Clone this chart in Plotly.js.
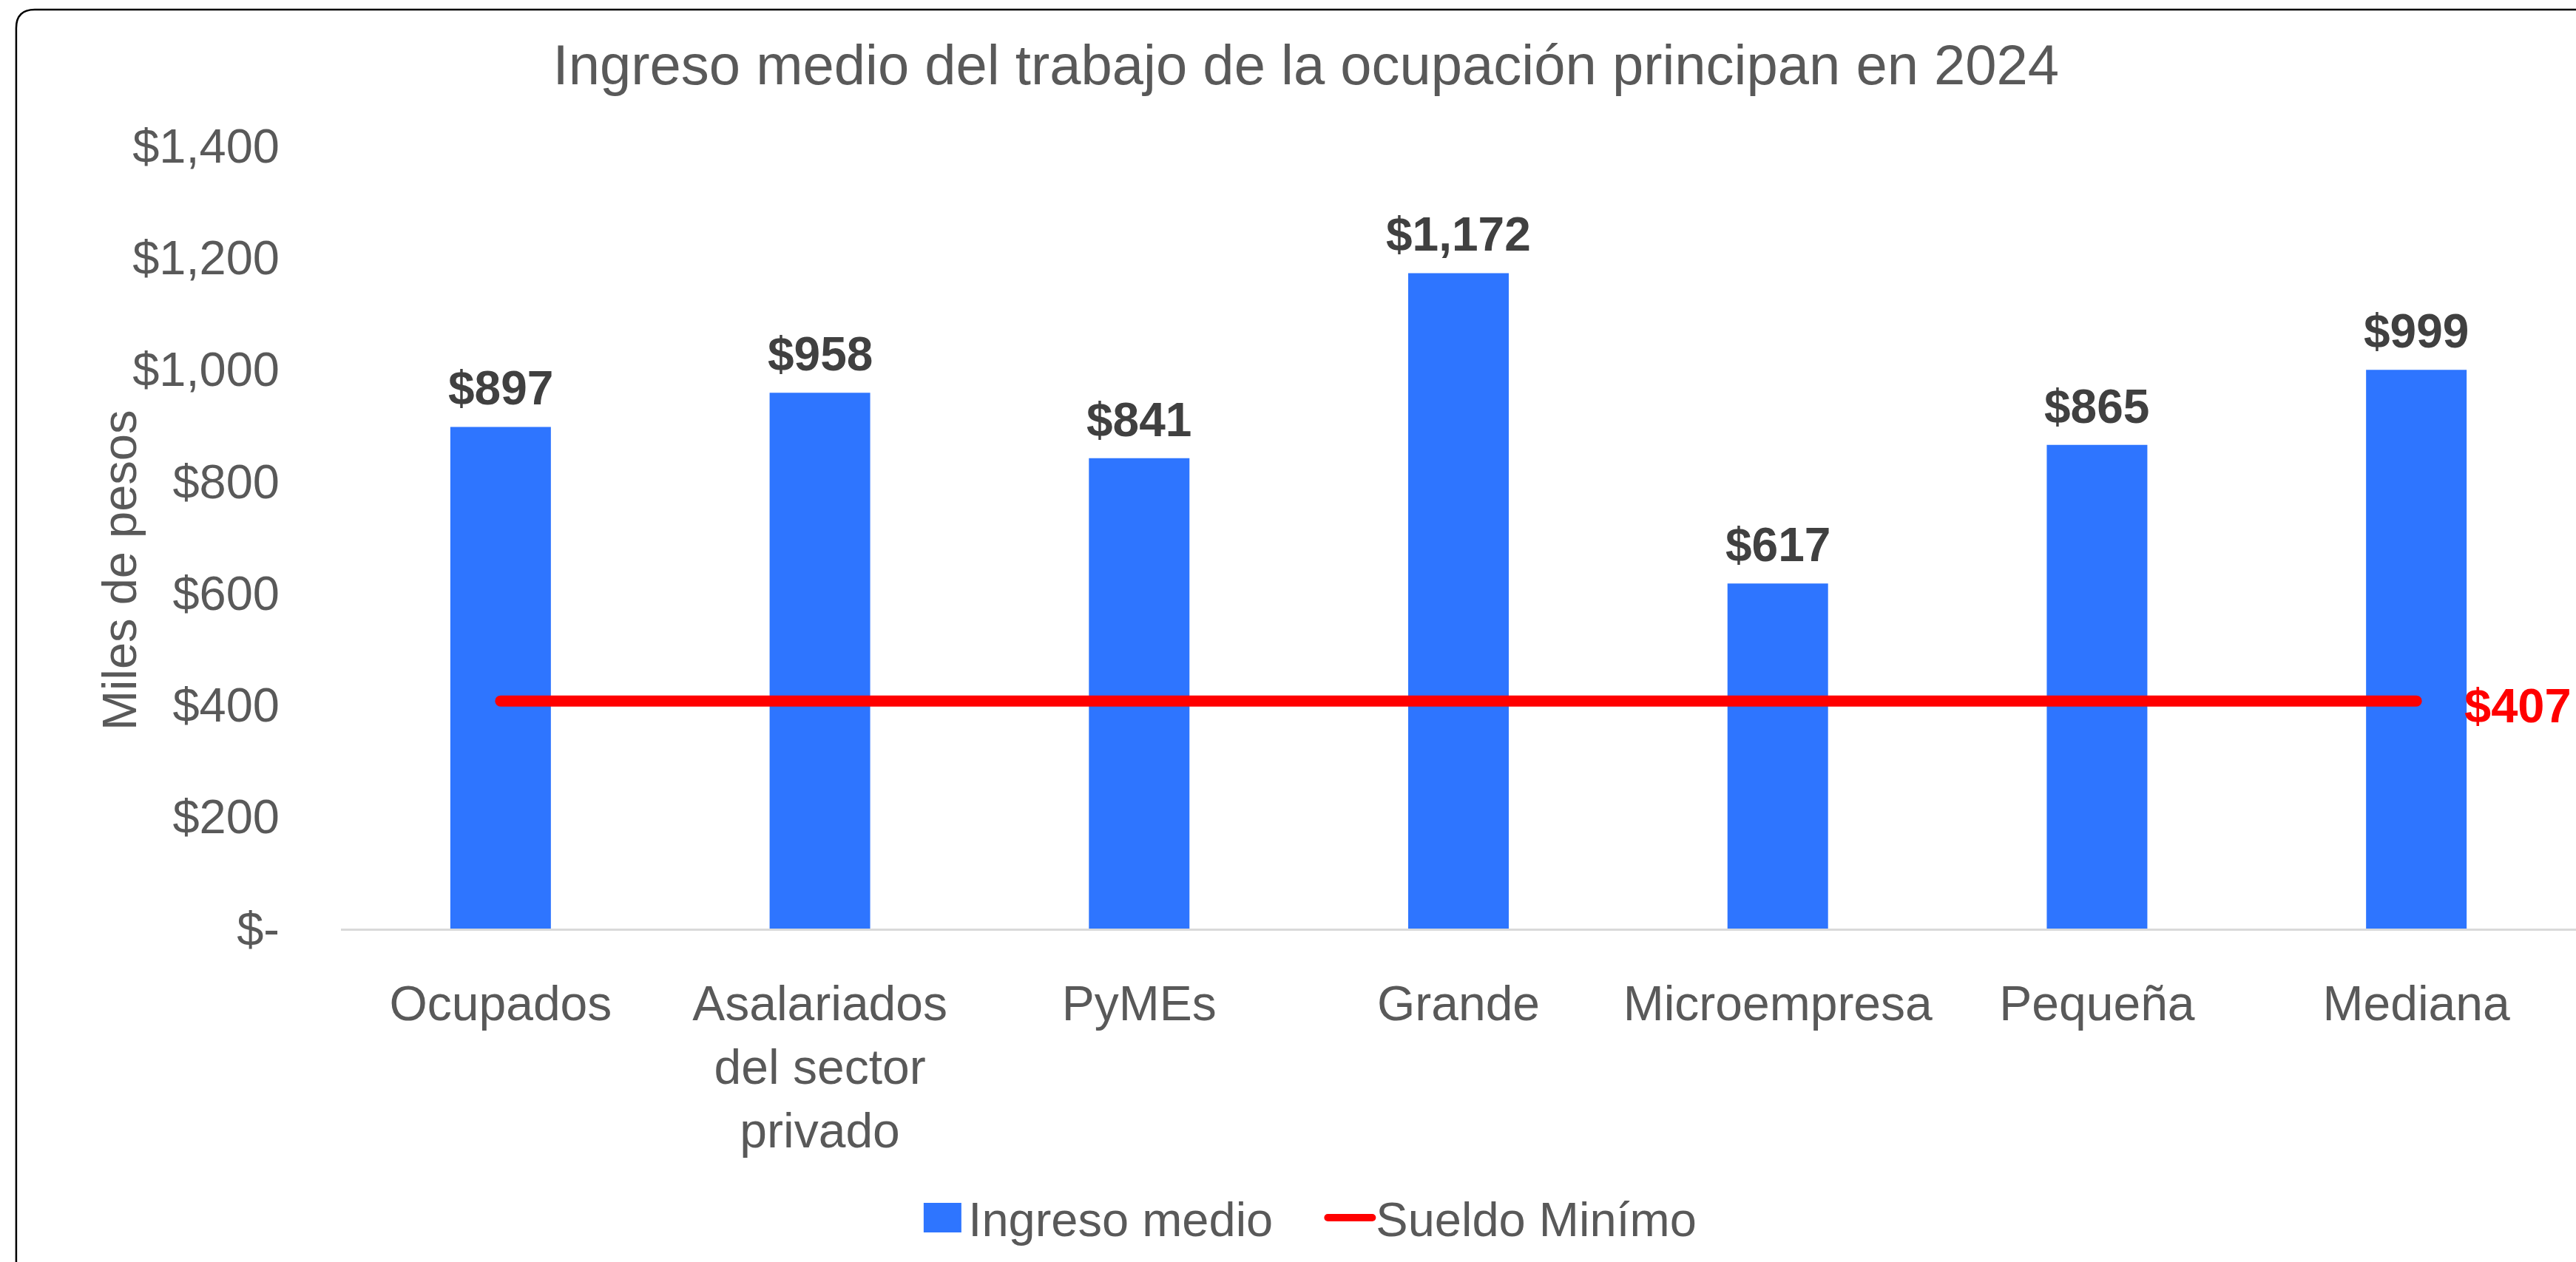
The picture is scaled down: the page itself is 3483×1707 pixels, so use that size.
<!DOCTYPE html>
<html><head><meta charset="utf-8">
<script src="https://cdn.plot.ly/plotly-3.0.1.min.js"></script>
<style>html,body{margin:0;padding:0;background:#fff;} #chart{width:3483px;height:1707px;}</style>
</head><body><div id="chart"></div>
<script>
const categories = ["Ocupados","Asalariados del sector privado","PyMEs","Grande","Microempresa","Pequeña","Mediana"];
const categoryTickLabels = ["Ocupados","Asalariados<br>del sector<br>privado","PyMEs","Grande","Microempresa","Pequeña","Mediana"];
const ingresoMedio = [897,958,841,1172,617,865,999];
const sueldoMinimo = [407,407,407,407,407,407,407];
const yTickVals = [0,200,400,600,800,1000,1200,1400];
const yTickText = ["$-","$200","$400","$600","$800","$1,000","$1,200","$1,400"];
const seriesNames = ["Ingreso medio","Sueldo Minímo"];
const titleText = "Ingreso medio del trabajo de la ocupación principan en 2024";
const yAxisTitle = "Miles de pesos";

const FONT = "Liberation Sans, Arial, sans-serif";
const GREY = "#595959";
const fmt = v => "$" + v.toLocaleString("en-US");

const traces = [
  {type:"bar", name:seriesNames[0], x:categories, y:ingresoMedio,
   marker:{color:"#2E75FF"}, hoverinfo:"x+y", legendwidth:476},
  {type:"scatter", mode:"lines", name:seriesNames[1], x:categories, y:sueldoMinimo,
   line:{color:"#FF0000", width:15}, hoverinfo:"x+y"}
];

const annotations = ingresoMedio.map((v,i)=>({
  x:categories[i], y:v, xref:"x", yref:"y", text:fmt(v), showarrow:false,
  yanchor:"bottom", yshift:14,
  font:{family:FONT, size:64, color:"#404040", weight:"bold"}
}));
const last = sueldoMinimo.length-1;
annotations.push({
  x:categories[last], y:sueldoMinimo[last], xref:"x", yref:"y", text:fmt(sueldoMinimo[last]),
  showarrow:false, xanchor:"left", xshift:63, yanchor:"middle", yshift:-6,
  font:{family:FONT, size:65, color:"#FF0000", weight:"bold"}
});
// y-axis title
annotations.push({
  x:-0.0989, y:0.458, xref:"paper", yref:"paper", text:yAxisTitle, textangle:-90,
  showarrow:false, xanchor:"center", yanchor:"middle",
  font:{family:FONT, size:65, color:GREY}
});

const rx = 25/3022, ry = 25/1059;
const x0 = -0.1453, yTop = 1.1737, yBot = -0.5, xR = 1.05;
const borderPath = `M${x0},${yBot} L${x0},${yTop-ry} Q${x0},${yTop} ${x0+rx},${yTop} L${xR},${yTop}`;

const layout = {
  width:3483, height:1707,
  margin:{l:461, r:0, t:197, b:451, pad:0},
  paper_bgcolor:"#fff", plot_bgcolor:"#fff",
  font:{family:FONT, color:GREY, size:65},
  title:{text:titleText, font:{family:FONT, size:76, color:GREY},
         x:0.507, xref:"container", xanchor:"center", y:0.949, yref:"container", yanchor:"middle"},
  bargap:0.685,
  xaxis:{type:"category", range:[-0.5,6.5], tickvals:categories, ticktext:categoryTickLabels,
         showline:true, linecolor:"#D9D9D9", linewidth:3, showgrid:false, zeroline:false,
         ticks:"", ticklabelstandoff:42, tickfont:{family:FONT, size:66, color:GREY}, fixedrange:true},
  yaxis:{range:[0,1400], tickvals:yTickVals, ticktext:yTickText, showgrid:false, zeroline:false,
         showline:false, ticks:"", ticklabelstandoff:82, tickfont:{family:FONT, size:65, color:GREY},
         fixedrange:true},
  showlegend:true,
  legend:{orientation:"h", x:0.508, xref:"container", xanchor:"center", y:0.035, yref:"container",
          yanchor:"middle", font:{family:FONT, size:65, color:GREY}, itemwidth:60, bgcolor:"rgba(0,0,0,0)"},
  annotations:annotations,
  shapes:[{type:"path", xref:"paper", yref:"paper", path:borderPath, line:{color:"#000", width:2.5}, layer:"above"}]
};

function tweak(){
  document.querySelectorAll(".scatterlayer .js-line").forEach(p=>{p.style.strokeLinecap="round";});
  document.querySelectorAll(".legend .legendlines path").forEach(p=>{p.style.strokeLinecap="round";});
  const groups = document.querySelectorAll(".legend .traces");
  if(groups.length){
    groups[0].querySelectorAll(".legendpoints path").forEach(p=>{
      p.setAttribute("d","M25.5,20H-25.5V-20H25.5Z");
    });
  }
}

Plotly.newPlot("chart", traces, layout, {staticPlot:true}).then(gd=>{
  tweak();
  gd.on("plotly_afterplot", tweak);
  requestAnimationFrame(tweak);
  setTimeout(tweak, 50);
});
</script></body></html>
